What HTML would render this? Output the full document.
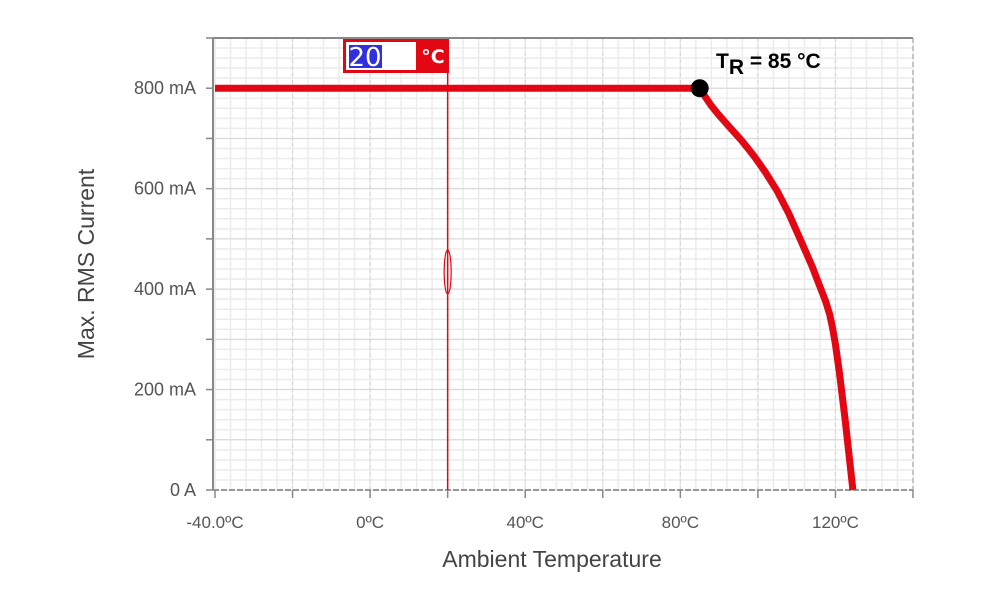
<!DOCTYPE html>
<html><head><meta charset="utf-8"><style>
body{margin:0;background:#fff;width:1000px;height:600px;overflow:hidden;font-family:"Liberation Sans",sans-serif}
</style></head><body>
<svg id="chart" width="1000" height="600" xmlns="http://www.w3.org/2000/svg"></svg>
<script>
const tempTicks=[-40,-20,0,20,40,60,80,100,120,140];
const tempLabels=["-40.0ºC","0ºC","40ºC","80ºC","120ºC"];
const labelTemps=[-40,0,40,80,120];
const currentTicks=[0,200,400,600,800];
const currentLabels=["0 A","200 mA","400 mA","600 mA","800 mA"];
const curveTemps=[-40,85,86.5,88,90,93,96,99,102,105,108,111,114,116,117.5,118.5,119.2,120,121,122.5,124.5];
const curveCurrents=[800,800,782,765,746,720,694,665,632,595,550,498,445,405,375,350,325,290,235,140,0];
const markerTemp=20;
const ratedTemp=85, ratedCurrent=800;
const NS="http://www.w3.org/2000/svg";
const svg=document.getElementById('chart');
const X0=215,X1=913,Y0=490,Y1=38;
const xs=t=>X0+(t+40)/180*(X1-X0);
const ys=v=>Y0-v/900*(Y0-Y1);
function mk(tag,a,p){const e=document.createElementNS(NS,tag);for(const k in a)e.setAttribute(k,a[k]);(p||svg).appendChild(e);return e;}
const g=mk('g',{});


for(let t=-40;t<=140;t+=4){mk('line',{x1:xs(t),x2:xs(t),y1:Y1,y2:Y0,stroke:'#ececec','stroke-width':1.5},g);}
for(let v=0;v<=900;v+=20){mk('line',{x1:X0,x2:X1,y1:ys(v),y2:ys(v),stroke:'#ececec','stroke-width':1.5},g);}
for(let t=-20;t<=120;t+=20){mk('line',{x1:xs(t),x2:xs(t),y1:Y1,y2:Y0,stroke:'#d4d4d4','stroke-dasharray':'4,3'},g);}
for(let v=100;v<900;v+=100){mk('line',{x1:X0,x2:X1,y1:ys(v),y2:ys(v),stroke:'#d8d8d8'},g);}
mk('line',{x1:X0-2,x2:X1,y1:Y1,y2:Y1,stroke:'#888','stroke-width':2});
mk('line',{x1:X1,x2:X1,y1:Y1,y2:Y0,stroke:'#999','stroke-dasharray':'5,3'});
mk('line',{x1:X0-2,x2:X1,y1:Y0,y2:Y0,stroke:'#999','stroke-width':2,'stroke-dasharray':'6,2'});
mk('line',{x1:X0-2,x2:X0-2,y1:Y1,y2:Y0,stroke:'#888','stroke-width':2});
for(const t of tempTicks){mk('line',{x1:xs(t),x2:xs(t),y1:Y0,y2:Y0+8,stroke:'#888','stroke-width':1.5});}
for(let v=0;v<=900;v+=100){mk('line',{x1:X0-9,x2:X0-2,y1:ys(v),y2:ys(v),stroke:'#888','stroke-width':1.5});}
labelTemps.forEach((t,i)=>{const e=mk('text',{x:xs(t),y:528,'text-anchor':'middle','font-size':17,fill:'#555'});e.textContent=tempLabels[i];

});
currentTicks.forEach((v,i)=>{const e=mk('text',{x:196,y:ys(v)+6,'text-anchor':'end','font-size':18,fill:'#555'});e.textContent=currentLabels[i];

});
const xt=mk('text',{x:552,y:567,'text-anchor':'middle','font-size':23,fill:'#444'});xt.textContent='Ambient Temperature';


const yt=mk('text',{x:94,y:264,'text-anchor':'middle','font-size':23,fill:'#444',transform:'rotate(-90 94 264)'});yt.textContent='Max. RMS Current';


const pts=curveTemps.map((t,i)=>xs(t)+','+ys(curveCurrents[i])).join(' ');
const cl=mk('polyline',{points:pts,fill:'none',stroke:'#e30613','stroke-width':7,'stroke-linejoin':'round'});


const mx=xs(markerTemp);
const ml=mk('line',{x1:mx,x2:mx,y1:Y1+30,y2:Y0,stroke:'#e30613','stroke-width':1.5});


const hd=mk('ellipse',{cx:mx,cy:272,rx:3.5,ry:22,fill:'none',stroke:'#e30613','stroke-width':1.2});


mk('rect',{x:343,y:39,width:106,height:34,fill:'#e30613'});
const ib=mk('rect',{x:346,y:42,width:70,height:28,fill:'#fff'});


mk('rect',{x:349,y:45,width:33,height:23,fill:'#3030e0'});
const it=mk('text',{x:365,y:66,'text-anchor':'middle','font-size':26,fill:'#fff','font-family':'DejaVu Sans'});it.textContent=String(markerTemp);


const ut=mk('text',{x:433,y:63,'text-anchor':'middle','font-size':19,fill:'#fff','font-family':'DejaVu Sans','font-weight':'bold'});ut.textContent='°C';


const rp=mk('circle',{cx:xs(ratedTemp),cy:ys(ratedCurrent),r:9,fill:'#000'});


const rt=mk('text',{x:716,y:68,'font-size':21,fill:'#000','font-weight':'bold','font-family':'Liberation Sans'});
rt.innerHTML='T<tspan dy="6" font-size="21">R</tspan><tspan dy="-6"> = 85 °C</tspan>';


</script>
</body></html>
